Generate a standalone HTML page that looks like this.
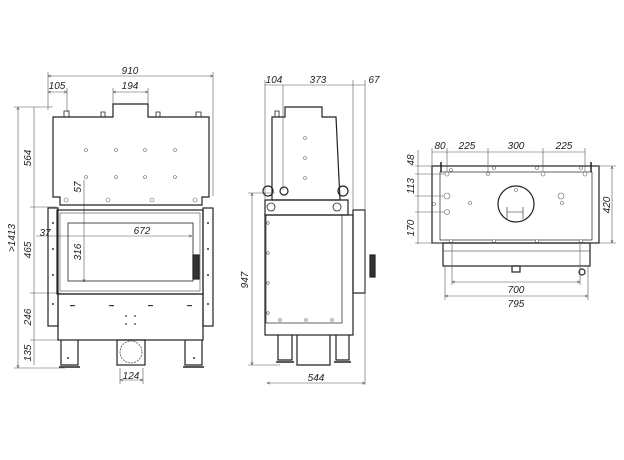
<!DOCTYPE html>
<html><head><meta charset="utf-8"><style>
html,body{margin:0;padding:0;background:#fff;}
svg{display:block;}
text{font-family:"Liberation Sans",sans-serif;font-size:10px;font-style:italic;fill:#222;}
</style></head><body>
<svg width="624" height="460" viewBox="0 0 624 460" xmlns="http://www.w3.org/2000/svg">
<defs><marker id="a" markerWidth="6" markerHeight="6" refX="5" refY="3" orient="auto-start-reverse"><path d="M0,1 L5,3 L0,5" fill="none" stroke="#444" stroke-width="0.8"/></marker></defs>
<g fill="none" stroke="#555" stroke-width="0.6">
<line x1="48" y1="76" x2="213" y2="76" marker-start="url(#a)" marker-end="url(#a)"/>
<line x1="48" y1="72" x2="48" y2="110"/><line x1="213" y1="72" x2="213" y2="196"/>
<line x1="48" y1="92" x2="67" y2="92" marker-start="url(#a)" marker-end="url(#a)"/>
<line x1="67" y1="88" x2="67" y2="112"/>
<line x1="113" y1="92" x2="148" y2="92" marker-start="url(#a)" marker-end="url(#a)"/>
<line x1="113" y1="88" x2="113" y2="104"/><line x1="148" y1="88" x2="148" y2="104"/>
<line x1="18" y1="107" x2="18" y2="368" marker-start="url(#a)" marker-end="url(#a)"/>
<line x1="34" y1="107" x2="34" y2="365"/>
<line x1="14" y1="107" x2="53" y2="107"/><line x1="30" y1="207" x2="57" y2="207"/>
<line x1="30" y1="293" x2="60" y2="293"/><line x1="30" y1="340" x2="60" y2="340"/>
<line x1="14" y1="368" x2="65" y2="368"/>
<line x1="84" y1="180" x2="84" y2="282" marker-end="url(#a)"/>
<line x1="36" y1="236" x2="192" y2="236" marker-end="url(#a)"/>
<line x1="120" y1="380" x2="143" y2="380" marker-start="url(#a)" marker-end="url(#a)"/>
<line x1="120" y1="368" x2="120" y2="384"/><line x1="143" y1="368" x2="143" y2="384"/>
</g>
<g fill="none" stroke="#222" stroke-width="1.2">
<path d="M53,197 V117 H113 V104 H148 V117 H209 V197 H202 V205 H60 V197 Z"/>
<path d="M64,117 V111 H69 V117 M101,117 V112 H105 V117 M156,117 V112 H160 V117 M196,117 V112 H201 V117" stroke-width="0.8"/>
<rect x="48" y="208" width="10" height="118"/><rect x="203" y="208" width="10" height="118"/>
<rect x="57" y="210" width="146" height="84"/>
<rect x="60" y="213" width="140" height="78" stroke-width="0.5"/>
<rect x="68" y="223" width="125" height="58" stroke-width="0.8"/>
<rect x="58" y="294" width="145" height="46"/>
<path d="M61,340 V365 H78 V340 M185,340 V365 H202 V340"/>
<path d="M59,367 H80 M183,367 H204" stroke-width="1.5"/>
<rect x="117" y="340" width="28" height="25"/>
<circle cx="131" cy="352" r="11" stroke-width="0.6" stroke-dasharray="2,1"/>
<rect x="193" y="255" width="6" height="24" fill="#333"/>
<path d="M272,200 V117 H285 V107 H322 V117 H336 L340,200 Z"/>
<path d="M275,117 V111 H279 V117" stroke-width="0.8"/>
<circle cx="268" cy="191" r="5"/><circle cx="284" cy="191" r="4"/><circle cx="343" cy="191" r="5"/>
<path d="M265,200 H348 V215 H265 Z"/>
<circle cx="271" cy="207" r="4" stroke-width="0.8"/><circle cx="337" cy="207" r="4" stroke-width="0.8"/>
<rect x="265" y="215" width="88" height="120"/>
<rect x="266" y="215" width="76" height="108" stroke-width="0.7"/>
<rect x="353" y="210" width="12" height="83"/>
<rect x="370" y="255" width="5" height="22" fill="#333"/>
<path d="M278,335 V360 H292 V335 M336,335 V360 H349 V335 M297,335 V365 H330 V335"/>
<path d="M276,362 H294 M334,362 H351" stroke-width="1.5"/>
<rect x="432" y="166" width="167" height="77"/>
<rect x="440" y="172" width="152" height="68" stroke-width="0.7"/>
<circle cx="516" cy="204" r="18"/>
<path d="M507,207 V219 M523,207 V219 M507,212 H523" stroke-width="0.6"/>
<rect x="443" y="243" width="147" height="23"/>
<line x1="443" y1="251" x2="590" y2="251" stroke-width="0.6"/>
<rect x="512" y="266" width="8" height="6"/>
<circle cx="582" cy="272" r="3"/>
<path d="M441,162 V172 M591,162 V172" stroke-width="1.5"/>
</g>
<g fill="none" stroke="#555" stroke-width="0.6">
<line x1="265" y1="85" x2="365" y2="85"/><line x1="283" y1="85" x2="283" y2="190"/>
<line x1="265" y1="80" x2="265" y2="200"/><line x1="353" y1="80" x2="353" y2="210"/><line x1="365" y1="80" x2="365" y2="385"/>
<line x1="267" y1="383" x2="365" y2="383" marker-start="url(#a)" marker-end="url(#a)"/>
<line x1="252" y1="193" x2="252" y2="365" marker-start="url(#a)" marker-end="url(#a)"/>
<line x1="248" y1="193" x2="275" y2="193"/><line x1="248" y1="365" x2="280" y2="365"/>
<line x1="432" y1="152" x2="585" y2="152"/>
<line x1="432" y1="148" x2="432" y2="166"/><line x1="447" y1="148" x2="447" y2="175"/><line x1="488" y1="148" x2="488" y2="175"/><line x1="543" y1="148" x2="543" y2="175"/><line x1="585" y1="148" x2="585" y2="175"/>
<line x1="418" y1="150" x2="418" y2="244"/>
<line x1="415" y1="166" x2="432" y2="166"/><line x1="415" y1="174" x2="445" y2="174"/><line x1="415" y1="196" x2="450" y2="196"/><line x1="415" y1="212" x2="450" y2="212"/><line x1="415" y1="243" x2="443" y2="243"/>
<line x1="612" y1="166" x2="612" y2="243" marker-start="url(#a)" marker-end="url(#a)"/>
<line x1="599" y1="166" x2="616" y2="166"/><line x1="599" y1="243" x2="616" y2="243"/>
<line x1="452" y1="282" x2="580" y2="282" marker-start="url(#a)" marker-end="url(#a)"/>
<line x1="445" y1="296" x2="588" y2="296" marker-start="url(#a)" marker-end="url(#a)"/>
<line x1="452" y1="240" x2="452" y2="285"/><line x1="580" y1="240" x2="580" y2="285"/>
<line x1="445" y1="266" x2="445" y2="300"/><line x1="588" y1="266" x2="588" y2="300"/>
</g>
<g fill="#fff" stroke="#666" stroke-width="0.6">
<circle cx="86" cy="150" r="1.5"/><circle cx="116" cy="150" r="1.5"/><circle cx="145" cy="150" r="1.5"/><circle cx="175" cy="150" r="1.5"/>
<circle cx="86" cy="177" r="1.5"/><circle cx="116" cy="177" r="1.5"/><circle cx="145" cy="177" r="1.5"/><circle cx="175" cy="177" r="1.5"/>
<circle cx="66" cy="200" r="2"/><circle cx="108" cy="200" r="2"/><circle cx="152" cy="200" r="2"/><circle cx="195" cy="200" r="2"/>
<circle cx="305" cy="138" r="1.5"/><circle cx="305" cy="158" r="1.5"/><circle cx="305" cy="178" r="1.5"/>
<circle cx="268" cy="223" r="1.3"/><circle cx="268" cy="253" r="1.3"/><circle cx="268" cy="283" r="1.3"/><circle cx="268" cy="313" r="1.3"/>
<circle cx="280" cy="320" r="1.3"/><circle cx="306" cy="320" r="1.3"/><circle cx="332" cy="320" r="1.3"/>
<circle cx="447" cy="196" r="3"/><circle cx="561" cy="196" r="3"/><circle cx="447" cy="212" r="2.5"/>
<circle cx="447" cy="174" r="2"/><circle cx="488" cy="174" r="1.5"/><circle cx="543" cy="174" r="2"/><circle cx="585" cy="174" r="2"/>
<circle cx="451" cy="170" r="1.5"/><circle cx="494" cy="168" r="1.5"/><circle cx="537" cy="168" r="1.5"/><circle cx="581" cy="168" r="1.5"/>
<circle cx="451" cy="241" r="1.5"/><circle cx="494" cy="241" r="1.5"/><circle cx="537" cy="241" r="1.5"/><circle cx="581" cy="241" r="1.5"/>
<circle cx="434" cy="204" r="1.5"/><circle cx="470" cy="203" r="1.5"/><circle cx="562" cy="203" r="1.5"/><circle cx="516" cy="190" r="1.5"/>
</g>
<g fill="#333">
<circle cx="53" cy="223" r="1"/><circle cx="53" cy="249" r="1"/><circle cx="53" cy="275" r="1"/><circle cx="53" cy="304" r="1"/>
<circle cx="208" cy="223" r="1"/><circle cx="208" cy="249" r="1"/><circle cx="208" cy="275" r="1"/><circle cx="208" cy="304" r="1"/>
<rect x="70" y="305" width="5" height="1.2"/><rect x="109" y="305" width="5" height="1.2"/><rect x="148" y="305" width="5" height="1.2"/><rect x="187" y="305" width="5" height="1.2"/>
<circle cx="126" cy="316" r="0.9"/><circle cx="135" cy="316" r="0.9"/><circle cx="126" cy="324" r="0.9"/><circle cx="135" cy="324" r="0.9"/>
<circle cx="68" cy="358" r="1"/><circle cx="194" cy="358" r="1"/>
</g>
<g>
<text x="130" y="74" text-anchor="middle">910</text>
<text x="57" y="89" text-anchor="middle">105</text>
<text x="130" y="89" text-anchor="middle">194</text>
<text x="142" y="234" text-anchor="middle">672</text>
<text x="131" y="379" text-anchor="middle">124</text>
<text x="45" y="236" text-anchor="middle">37</text>
<text transform="translate(15,238) rotate(-90)" text-anchor="middle">&gt;1413</text>
<text transform="translate(31,158) rotate(-90)" text-anchor="middle">564</text>
<text transform="translate(31,250) rotate(-90)" text-anchor="middle">465</text>
<text transform="translate(31,317) rotate(-90)" text-anchor="middle">246</text>
<text transform="translate(31,353) rotate(-90)" text-anchor="middle">135</text>
<text transform="translate(81,187) rotate(-90)" text-anchor="middle">57</text>
<text transform="translate(81,252) rotate(-90)" text-anchor="middle">316</text>
<text x="274" y="83" text-anchor="middle">104</text>
<text x="318" y="83" text-anchor="middle">373</text>
<text x="374" y="83" text-anchor="middle">67</text>
<text x="316" y="381" text-anchor="middle">544</text>
<text transform="translate(248,280) rotate(-90)" text-anchor="middle">947</text>
<text x="440" y="149" text-anchor="middle">80</text>
<text x="467" y="149" text-anchor="middle">225</text>
<text x="516" y="149" text-anchor="middle">300</text>
<text x="564" y="149" text-anchor="middle">225</text>
<text transform="translate(414,160) rotate(-90)" text-anchor="middle">48</text>
<text transform="translate(414,186) rotate(-90)" text-anchor="middle">113</text>
<text transform="translate(414,228) rotate(-90)" text-anchor="middle">170</text>
<text transform="translate(610,205) rotate(-90)" text-anchor="middle">420</text>
<text x="516" y="293" text-anchor="middle">700</text>
<text x="516" y="307" text-anchor="middle">795</text>
</g>
</svg>
</body></html>
